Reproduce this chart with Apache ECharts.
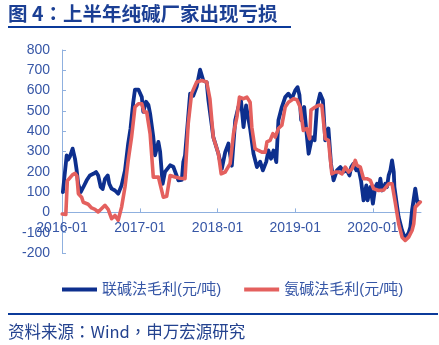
<!DOCTYPE html>
<html>
<head>
<meta charset="utf-8">
<script src="https://cdn.jsdelivr.net/npm/echarts@6/dist/echarts.min.js"></script>
<style>
html,body{margin:0;padding:0;background:#fff;}
#c{width:439px;height:345px;}
</style>
</head>
<body>
<div id="c"></div>
<script>
const titleText = '图 4：上半年纯碱厂家出现亏损';
const sourceText = '资料来源：Wind，申万宏源研究';
const seriesNames = ['联碱法毛利(元/吨)', '氨碱法毛利(元/吨)'];
const yTicks = [-200, -100, 0, 100, 200, 300, 400, 500, 600, 700, 800];

const blueDates = [
'2016-01-05','2016-01-23','2016-01-30','2016-02-07','2016-02-20','2016-03-02','2016-03-10','2016-03-17','2016-03-29','2016-04-10',
'2016-04-26','2016-05-11','2016-05-27','2016-06-09','2016-06-19','2016-07-01','2016-07-10','2016-07-21','2016-08-03','2016-08-10',
'2016-08-21','2016-09-06','2016-09-21','2016-09-29','2016-10-07','2016-10-23','2016-11-07','2016-11-18','2016-11-30','2016-12-09',
'2016-12-17','2016-12-25','2017-01-10','2017-01-17','2017-01-30','2017-02-10','2017-02-18','2017-03-05','2017-03-13','2017-03-29',
'2017-04-06','2017-04-18','2017-04-29','2017-05-23','2017-06-07','2017-07-01','2017-07-17','2017-07-24','2017-08-01','2017-08-25',
'2017-09-09','2017-09-25','2017-10-11','2017-10-26','2017-11-11','2017-11-19','2017-12-12','2018-01-05','2018-01-21','2018-02-06',
'2018-02-21','2018-03-09','2018-03-25','2018-04-09','2018-04-21','2018-05-03','2018-05-15','2018-05-26','2018-06-03','2018-06-19',
'2018-07-05','2018-07-20','2018-08-02','2018-08-18','2018-08-28','2018-09-09','2018-09-21','2018-10-04','2018-10-14','2018-10-30',
'2018-11-15','2018-11-30','2018-12-16','2019-01-01','2019-01-12','2019-01-21','2019-01-29','2019-02-12','2019-02-22','2019-03-05',
'2019-03-21','2019-04-02','2019-04-13','2019-04-28','2019-05-11','2019-05-22','2019-06-06','2019-06-18','2019-06-30','2019-07-16',
'2019-08-01','2019-08-16','2019-09-01','2019-09-13','2019-09-21','2019-10-02','2019-10-15','2019-10-26','2019-11-06','2019-11-18',
'2019-12-01','2019-12-07','2019-12-20','2020-01-01','2020-01-12','2020-01-20','2020-01-28','2020-02-05','2020-02-13','2020-02-28',
'2020-03-07','2020-03-15','2020-03-23','2020-03-31','2020-04-08','2020-04-11','2020-04-24','2020-05-01','2020-05-17','2020-06-01',
'2020-06-17','2020-06-25','2020-07-03','2020-07-18','2020-07-29','2020-08-06'
];
const blueValues = [
100,281,260,275,314,265,207,141,100,124,
158,182,190,199,182,125,115,165,182,141,
117,108,92,84,133,207,339,413,536,605,
610,605,568,495,545,530,487,371,281,347,
300,141,200,232,225,158,160,248,280,585,
575,620,703,650,640,552,371,289,215,297,
339,230,454,519,552,420,527,460,413,289,
223,250,207,250,305,264,305,248,454,519,
568,585,560,601,617,577,454,519,404,289,
370,355,519,585,552,355,413,240,158,207,
223,200,207,182,223,240,207,215,158,59,
133,59,125,43,125,141,117,166,108,141,
125,182,207,256,200,125,26,-23,-89,-130,
-100,-72,10,117,43,50
];

const redDates = [
'2016-01-02','2016-01-19','2016-01-26','2016-02-07','2016-02-19','2016-03-02','2016-03-11','2016-03-18','2016-04-02','2016-04-10',
'2016-05-03','2016-05-19','2016-06-04','2016-06-19','2016-06-27','2016-07-21','2016-08-05','2016-08-21','2016-09-06','2016-09-21',
'2016-09-29','2016-10-07','2016-10-23','2016-11-07','2016-11-23','2016-12-09','2016-12-25','2017-01-10','2017-01-21','2017-02-02',
'2017-02-18','2017-03-05','2017-03-29','2017-04-21','2017-05-07','2017-05-23','2017-06-15','2017-07-09','2017-08-01','2017-08-16',
'2017-09-01','2017-09-25','2017-10-19','2017-11-11','2017-11-26','2017-12-12','2018-01-05','2018-01-18','2018-02-06','2018-03-01',
'2018-03-17','2018-04-02','2018-04-14','2018-05-03','2018-05-19','2018-06-03','2018-06-11','2018-06-26','2018-07-12','2018-07-28',
'2018-08-13','2018-08-21','2018-09-05','2018-09-18','2018-09-29','2018-10-14','2018-10-30','2018-11-15','2018-11-30','2018-12-24',
'2019-01-09','2019-01-24','2019-02-08','2019-02-24','2019-03-10','2019-03-16','2019-04-05','2019-04-20','2019-05-06','2019-05-22',
'2019-06-06','2019-06-22','2019-07-08','2019-07-24','2019-08-09','2019-08-24','2019-09-09','2019-09-25','2019-10-10','2019-10-18',
'2019-11-03','2019-11-18','2019-12-04','2019-12-20','2020-01-04','2020-01-28','2020-02-20','2020-03-15','2020-03-31','2020-04-16',
'2020-05-01','2020-05-17','2020-06-01','2020-06-17','2020-07-03','2020-07-11','2020-07-18','2020-08-03','2020-08-11'
];
const redValues = [
-8,-10,155,170,185,192,180,92,75,50,
40,22,15,2,5,35,15,-31,-15,-39,
-42,26,125,256,371,519,535,535,494,494,
388,174,174,75,80,182,174,168,166,437,
585,642,650,642,560,370,289,190,199,240,
388,470,568,560,568,543,420,314,305,297,
297,347,355,388,371,413,429,519,543,560,
555,519,404,413,363,505,519,527,527,363,
355,190,199,199,190,223,199,215,256,232,
223,166,166,158,117,108,110,141,141,43,
-56,-122,-138,-122,-89,-56,26,43,51
];

const blueData = blueDates.map((d, i) => [d, blueValues[i]]);
const redData = redDates.map((d, i) => [d, redValues[i]]);

const axisBlue = '#3656a6';
const axisLineColor = '#8fb0df';
const latin = '"Liberation Sans", Arial, "Noto Sans CJK SC", sans-serif';
const cjk = '"Noto Sans CJK SC", "Liberation Sans", sans-serif';
const punctFont = '"Noto Sans CJK TC", "Noto Sans CJK SC", sans-serif';

// wrap fullwidth punctuation in a rich style so it sits centred like the original
const richPunct = s => s.replace(/([：，])/g, '{p|$1}').replace(/(^|})([^{}]+)(?={|$)/g, '$1{t|$2}');

const gridTop = 50, gridBottom = 92, chartH = 345;
const yMin = yTicks[0], yMax = yTicks[yTicks.length - 1];
const plotH = chartH - gridTop - gridBottom;
// shift the x axis (line, ticks, labels) up from the grid bottom to the zero value
const zeroOffset = -plotH * (0 - yMin) / (yMax - yMin);

const chart = echarts.init(document.getElementById('c'), null, {renderer: 'canvas'});
chart.setOption({
  animation: false,
  backgroundColor: '#ffffff',
  grid: {left: 62, right: 18, top: gridTop, bottom: gridBottom, containLabel: false},
  legend: {
    left: 57, top: 277,
    itemWidth: 35, itemHeight: 4, itemGap: 23,
    icon: 'rect',
    textStyle: {fontSize: 15, color: axisBlue, fontFamily: latin},
    data: seriesNames
  },
  xAxis: {
    type: 'time',
    min: '2016-01-01',
    max: '2020-08-14',
    minInterval: 365 * 24 * 3600 * 1000,
    maxInterval: 366 * 24 * 3600 * 1000,
    offset: zeroOffset,
    axisLine: {onZero: false, lineStyle: {color: axisLineColor, width: 1}},
    axisTick: {show: true, inside: true, length: 4, lineStyle: {color: axisLineColor}},
    splitLine: {show: false},
    axisLabel: {
      fontSize: 14, color: axisBlue, fontFamily: latin, margin: 9,
      formatter: '{yyyy}-{MM}', hideOverlap: false
    }
  },
  yAxis: {
    type: 'value',
    min: yMin, max: yMax, interval: 100,
    axisLine: {show: true, lineStyle: {color: axisLineColor, width: 1}},
    axisTick: {show: true, inside: true, length: 4, lineStyle: {color: axisLineColor}},
    splitLine: {show: false},
    axisLabel: {fontSize: 14, color: axisBlue, fontFamily: latin, margin: 12}
  },
  series: [
    {
      name: seriesNames[0], type: 'line', data: blueData,
      symbol: 'none', smooth: false,
      lineStyle: {color: '#0d2f8e', width: 3.8, join: 'round', cap: 'round'},
      itemStyle: {color: '#0d2f8e'}
    },
    {
      name: seriesNames[1], type: 'line', data: redData,
      symbol: 'none', smooth: false,
      lineStyle: {color: '#e4605e', width: 3.6, join: 'round', cap: 'round'},
      itemStyle: {color: '#e4605e'}
    }
  ],
  graphic: [
    {type: 'text', left: 8, top: 4, style: {
      text: richPunct(titleText),
      rich: {
        t: {fontSize: 19.5, fontWeight: 'bold', fill: '#1b3f94', fontFamily: cjk},
        p: {fontSize: 19.5, fontWeight: 'bold', fill: '#1b3f94', fontFamily: punctFont}
      }
    }},
    {type: 'rect', shape: {x: 8, y: 26, width: 283, height: 2}, style: {fill: '#0b3a9a'}},
    {type: 'rect', shape: {x: 8, y: 313, width: 430, height: 2}, style: {fill: '#0b3a9a'}},
    {type: 'text', left: 8, top: 323, style: {
      text: richPunct(sourceText),
      rich: {
        t: {fontSize: 16.5, fill: '#23428f', fontFamily: cjk},
        p: {fontSize: 16.5, fill: '#23428f', fontFamily: punctFont}
      }
    }}
  ]
});
</script>
</body>
</html>
